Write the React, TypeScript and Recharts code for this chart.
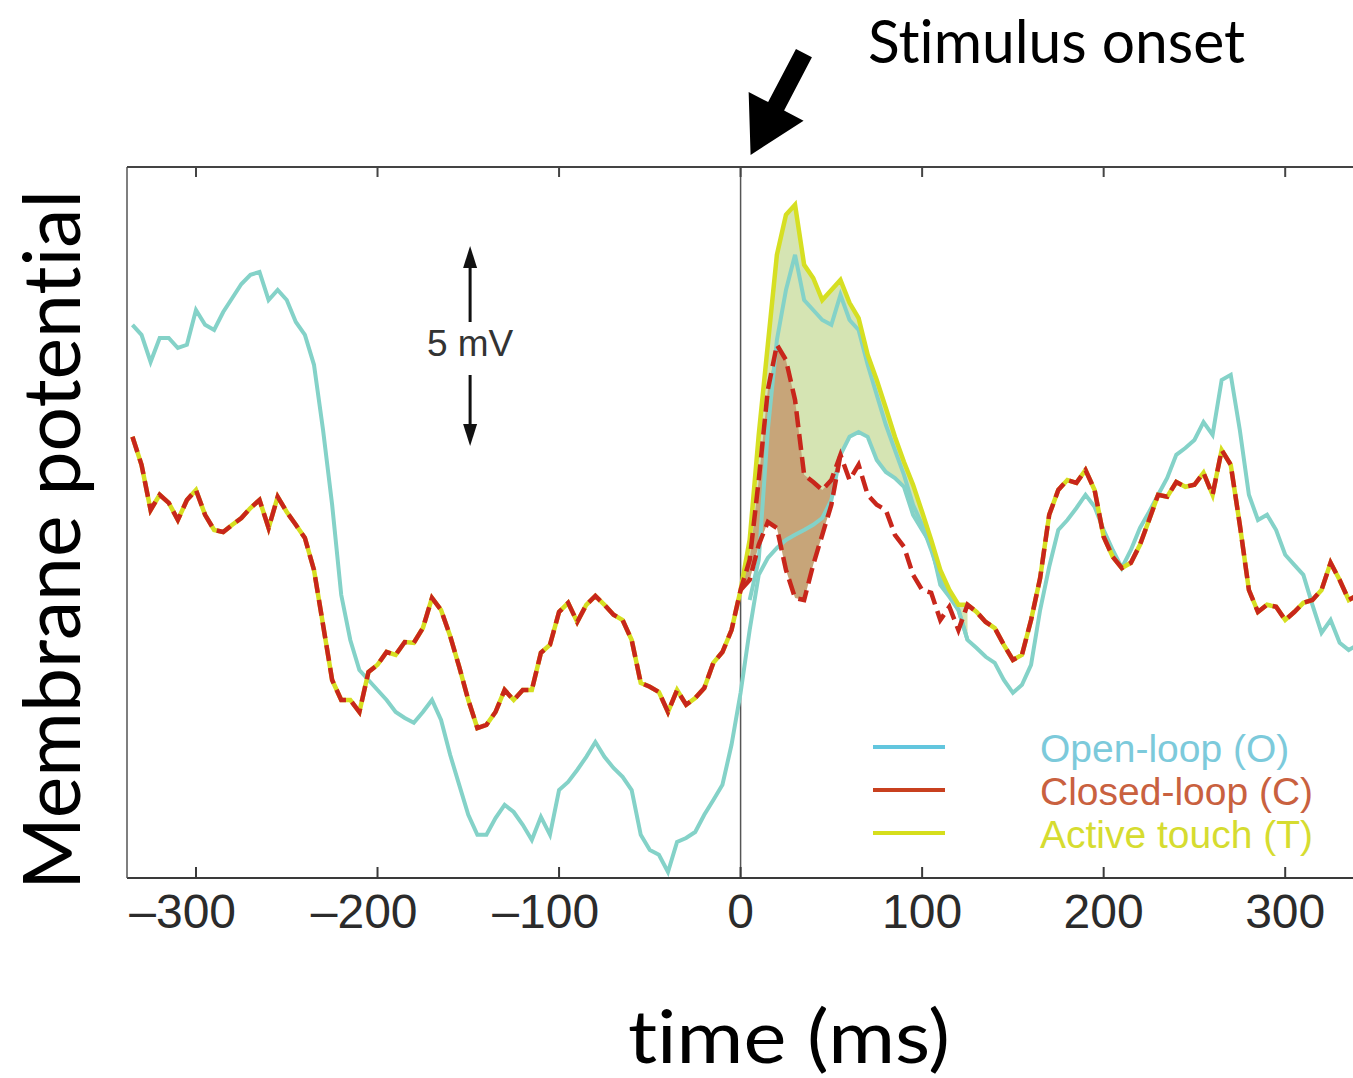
import React from "react";
import { ComposedChart, Line, Area, XAxis, YAxis, ReferenceLine } from "recharts";

// time axis of the averaged traces (ms from stimulus onset)
const TIME_MS = [
  -335, -330, -325, -320, -315, -310, -305, -300, -295, -290,
  -285, -280, -275, -270, -265, -260, -255, -250, -245, -240,
  -235, -230, -225, -220, -215, -210, -205, -200, -195, -190,
  -185, -180, -175, -170, -165, -160, -155, -150, -145, -140,
  -135, -130, -125, -120, -115, -110, -105, -100, -95, -90,
  -85, -80, -75, -70, -65, -60, -55, -50, -45, -40,
  -35, -30, -25, -20, -15, -10, -5, 0,
  5, 10, 15, 20, 25, 30, 35, 40, 45, 50,
  55, 60, 65, 70, 75, 80, 85, 90, 95, 100,
  105, 110, 115, 120, 125, 130, 135, 140, 145, 150,
  155, 160, 165, 170, 175, 180, 185, 190, 195, 200,
  205, 210, 215, 220, 225, 230, 235, 240, 245, 250,
  255, 260, 265, 270, 275, 280, 285, 290, 295, 300,
  305, 310, 315, 320, 325, 330, 335, 340,
];

// membrane potential, mV above the lowest point of the panel
const OPEN_LOOP = [
  13.83, 13.58, 12.9, 13.5, 13.5, 13.25, 13.33, 14.2, 13.83, 13.7,
  14.15, 14.5, 14.85, 15.08, 15.15, 14.45, 14.7, 14.45, 13.9, 13.58,
  12.83, 11.2, 9.33, 7.08, 5.95, 5.2, 4.95, 4.7, 4.45, 4.15,
  4.0, 3.88, 4.15, 4.45, 3.95, 3.08, 2.33, 1.58, 1.08, 1.08,
  1.5, 1.83, 1.65, 1.33, 0.95, 1.53, 1.08, 2.2, 2.4, 2.7,
  3.03, 3.4, 3.03, 2.75, 2.53, 2.2, 1.08, 0.7, 0.58, 0.15,
  0.9, 1.0, 1.15, 1.58, 1.95, 2.33, 3.33, 4.63,
  6.2, 7.58, 8.0, 8.25, 8.45, 8.58, 8.7, 8.83, 9.0, 9.45,
  10.58, 11.03, 11.15, 11.03, 10.45, 10.15, 10.0, 9.78, 9.08, 8.7,
  8.33, 7.33, 7.03, 6.7, 5.95, 5.75, 5.53, 5.38, 4.95, 4.63,
  4.83, 5.33, 6.7, 7.78, 8.7, 8.95, 9.25, 9.58, 9.28, 8.7,
  8.2, 7.75, 8.2, 8.75, 9.15, 9.58, 10.0, 10.58, 10.75, 10.95,
  11.4, 11.08, 12.45, 12.58, 11.2, 9.58, 8.95, 9.08, 8.7, 8.08,
  7.83, 7.58, 6.83, 6.13, 6.45, 5.88, 5.7, 5.83,
];

const CLOSED_LOOP = [
  11.03, 10.33, 9.2, 9.58, 9.38, 8.95, 9.45, 9.7, 9.08, 8.7,
  8.65, 8.83, 9.0, 9.25, 9.45, 8.75, 9.53, 9.15, 8.83, 8.5,
  7.7, 6.33, 4.95, 4.45, 4.45, 4.15, 5.15, 5.33, 5.65, 5.58,
  5.9, 5.88, 6.25, 7.0, 6.7, 6.05, 5.28, 4.45, 3.75, 3.83,
  4.15, 4.7, 4.45, 4.7, 4.7, 5.63, 5.83, 6.65, 6.88, 6.4,
  6.83, 7.05, 6.83, 6.58, 6.45, 5.95, 4.88, 4.78, 4.65, 4.15,
  4.7, 4.33, 4.5, 4.75, 5.38, 5.65, 6.2, 7.2,
  7.95, 9.95, 12.2, 13.33, 12.95, 11.95, 10.08, 9.9, 9.7, 9.95,
  10.58, 9.95, 10.33, 9.58, 9.33, 9.2, 8.58, 8.28, 7.58, 7.2,
  7.13, 6.45, 6.78, 6.2, 6.83, 6.65, 6.4, 6.25, 5.83, 5.45,
  5.58, 6.45, 7.5, 9.08, 9.7, 9.95, 9.88, 10.2, 9.7, 8.53,
  8.03, 7.75, 7.88, 8.33, 8.95, 9.58, 9.53, 9.9, 9.78, 9.83,
  10.13, 9.58, 10.7, 10.33, 8.83, 7.2, 6.65, 6.83, 6.78, 6.45,
  6.65, 6.88, 6.95, 7.2, 7.88, 7.45, 6.95, 7.08,
];

const ACTIVE_TOUCH = [
  11.03, 10.33, 9.2, 9.58, 9.38, 8.95, 9.45, 9.7, 9.08, 8.7,
  8.65, 8.83, 9.0, 9.25, 9.45, 8.75, 9.53, 9.15, 8.83, 8.5,
  7.7, 6.33, 4.95, 4.45, 4.45, 4.15, 5.15, 5.33, 5.65, 5.58,
  5.9, 5.88, 6.25, 7.0, 6.7, 6.05, 5.28, 4.45, 3.75, 3.83,
  4.15, 4.7, 4.45, 4.7, 4.7, 5.63, 5.83, 6.65, 6.88, 6.4,
  6.83, 7.05, 6.83, 6.58, 6.45, 5.95, 4.88, 4.78, 4.65, 4.15,
  4.7, 4.33, 4.5, 4.75, 5.38, 5.65, 6.2, 7.2,
  8.45, 11.08, 13.33, 15.58, 16.58, 16.83, 15.33, 15.0, 14.45, 14.7,
  14.95, 14.38, 14.0, 13.08, 12.45, 11.75, 11.03, 10.4, 9.83, 9.15,
  8.45, 7.7, 7.2, 6.83, 6.83, 6.65, 6.4, 6.25, 5.83, 5.45,
  5.58, 6.45, 7.5, 9.08, 9.7, 9.95, 9.88, 10.2, 9.7, 8.53,
  8.03, 7.75, 7.88, 8.33, 8.95, 9.58, 9.53, 9.9, 9.78, 9.83,
  10.13, 9.58, 10.7, 10.33, 8.83, 7.2, 6.65, 6.83, 6.78, 6.45,
  6.65, 6.88, 6.95, 7.2, 7.88, 7.45, 6.95, 7.08,
];

// early response copies drawn over the first part of the post-stimulus window
const OPEN_EARLY_TIME = [5, 10, 15, 20, 25, 30, 35, 40, 45, 50, 55, 60, 65, 70, 75, 80, 85, 90, 95, 100, 105, 110, 115, 120, 125];
const OPEN_EARLY = [
  6.95, 7.95, 11.2, 13.45, 14.7, 15.58, 14.45, 14.2, 13.95, 13.83,
  14.58, 13.95, 13.7, 12.83, 12.08, 11.33, 10.7, 10.08, 9.33, 8.83,
  8.2, 7.5, 7.08, 6.7, 5.95,
];
const CLOSED_EARLY_TIME = [0, 5, 10, 15, 20, 25, 30, 35, 40, 45, 50, 55];
const CLOSED_EARLY = [7.2, 7.45, 8.33, 8.9, 8.75, 7.7, 7.0, 6.95, 7.83, 8.58, 9.33, 10.58];

const GREEN_WINDOW = [0, 125];
const X_TICKS = [-300, -200, -100, 0, 100, 200, 300];
const SCALE_BAR_MV = 5;
const SCALE_BAR_TIME = -149;
const SCALE_BAR_BASE = 10.8;

const PAGE_W = 1353;
const PAGE_H = 1078;
const CHART_W = 1400;
const PLOT = { left: 127, top: 167, right: 1356, bottom: 878 };
const X_AXIS_H = 60;
const Y_AXIS_W = 20;
const X_DOMAIN: [number, number] = [-338, 339];
const Y_DOMAIN: [number, number] = [0, 17.775];
const TICK_FONT = 48;

const CYAN = "#84d2c8";
const RED = "#c8261b";
const YELLOW = "#d6df22";

const TITLE_FONT = "Lato, 'Open Sans', sans-serif";
const NO_LIGATURES = { fontVariantLigatures: "none" as const };

const LEGEND = [
  { label: "Open-loop (O)", line: "#62c6de", text: "#7ccadb" },
  { label: "Closed-loop (C)", line: "#c8401f", text: "#c9613f" },
  { label: "Active touch (T)", line: "#d6de1c", text: "#d6dc30" },
];

const rows = TIME_MS.map((t, i) => {
  const e = OPEN_EARLY_TIME.indexOf(t);
  const c = CLOSED_EARLY_TIME.indexOf(t);
  const inGreen = t >= GREEN_WINDOW[0] && t <= GREEN_WINDOW[1];
  const greenLow = c >= 0 ? Math.max(OPEN_LOOP[i], CLOSED_EARLY[c]) : OPEN_LOOP[i];
  return {
    t,
    open: OPEN_LOOP[i],
    closed: CLOSED_LOOP[i],
    active: ACTIVE_TOUCH[i],
    openEarly: e >= 0 ? OPEN_EARLY[e] : null,
    closedEarly: c >= 0 ? CLOSED_EARLY[c] : null,
    greenBand: inGreen ? [greenLow, ACTIVE_TOUCH[i]] : null,
    brownBand: c >= 0 ? [CLOSED_EARLY[c], CLOSED_LOOP[i]] : null,
  };
});

const xPx = (t: number) =>
  PLOT.left + ((t - X_DOMAIN[0]) / (X_DOMAIN[1] - X_DOMAIN[0])) * (PLOT.right - PLOT.left);
const yPx = (v: number) =>
  PLOT.bottom - ((v - Y_DOMAIN[0]) / (Y_DOMAIN[1] - Y_DOMAIN[0])) * (PLOT.bottom - PLOT.top);

function TimeTick(props: any) {
  const { x, payload } = props;
  const v = payload.value as number;
  const digits = String(Math.abs(v));
  const half = (digits.length * 0.556 * TICK_FONT) / 2;
  return (
    <g>
      <line x1={x} y1={PLOT.bottom} x2={x} y2={PLOT.bottom - 11} stroke="#3a3a3a" strokeWidth={2} />
      <text
        x={x + half}
        y={PLOT.bottom + 50}
        textAnchor="end"
        fontFamily="'Liberation Sans', Arial, sans-serif"
        fontSize={TICK_FONT}
        fill="#2b2b2b"
      >
        {v < 0 ? "\u2013" + digits : digits}
      </text>
    </g>
  );
}

function Overlay() {
  const bx = xPx(SCALE_BAR_TIME);
  const top = yPx(SCALE_BAR_BASE + SCALE_BAR_MV);
  const bottom = yPx(SCALE_BAR_BASE);
  const mid = (top + bottom) / 2;

  // stimulus arrow, pointing at the onset line
  const tip = { x: xPx(0) + 10, y: 155 };
  const d = { x: -0.464, y: 0.886 };
  const n = { x: 0.886, y: 0.464 };
  const base = { x: tip.x - 55 * d.x, y: tip.y - 55 * d.y };
  const tail = { x: tip.x - 115 * d.x, y: tip.y - 115 * d.y };
  const p = (c: { x: number; y: number }, k: number) => `${c.x + k * n.x},${c.y + k * n.y}`;
  const arrow = [
    `${tip.x},${tip.y}`,
    p(base, 31),
    p(base, 9),
    p(tail, 9),
    p(tail, -9),
    p(base, -9),
    p(base, -31),
  ].join(" ");

  return (
    <svg
      width={PAGE_W}
      height={PAGE_H}
      style={{ position: "absolute", left: 0, top: 0, pointerEvents: "none" }}
    >
      <line x1={PLOT.left} y1={PLOT.top} x2={PAGE_W} y2={PLOT.top} stroke="#444" strokeWidth={2} />
      {X_TICKS.map((t) => (
        <line key={t} x1={xPx(t)} y1={PLOT.top} x2={xPx(t)} y2={PLOT.top + 10} stroke="#444" strokeWidth={2} />
      ))}

      <polygon points={arrow} fill="#000" />
      <text
        x={868}
        y={63}
        fontFamily={TITLE_FONT}
        fontSize={60}
        textLength={377}
        lengthAdjust="spacingAndGlyphs"
        style={NO_LIGATURES}
        fill="#000"
      >
        Stimulus onset
      </text>

      <text
        x={628}
        y={1063}
        fontFamily={TITLE_FONT}
        fontSize={74}
        textLength={322}
        lengthAdjust="spacingAndGlyphs"
        style={NO_LIGATURES}
        fill="#000"
      >
        time (ms)
      </text>
      <text
        transform="translate(80, 540) rotate(-90)"
        textAnchor="middle"
        fontFamily={TITLE_FONT}
        fontSize={80}
        textLength={700}
        lengthAdjust="spacingAndGlyphs"
        style={NO_LIGATURES}
        fill="#000"
      >
        Membrane potential
      </text>

      {/* 5 mV scale bar */}
      <line x1={bx} y1={top + 16} x2={bx} y2={mid - 24} stroke="#111" strokeWidth={3} />
      <polygon points={`${bx},${top} ${bx - 7},${top + 22} ${bx + 7},${top + 22}`} fill="#111" />
      <line x1={bx} y1={mid + 29} x2={bx} y2={bottom - 16} stroke="#111" strokeWidth={3} />
      <polygon points={`${bx},${bottom} ${bx - 7},${bottom - 22} ${bx + 7},${bottom - 22}`} fill="#111" />
      <text
        x={bx}
        y={mid + 10}
        textAnchor="middle"
        fontFamily="'Liberation Sans', Arial, sans-serif"
        fontSize={37}
        fill="#333"
      >
        {SCALE_BAR_MV} mV
      </text>

      {LEGEND.map((item, i) => (
        <g key={item.label}>
          <line x1={873} y1={747 + i * 43} x2={945} y2={747 + i * 43} stroke={item.line} strokeWidth={4} />
          <text
            x={1040}
            y={762 + i * 43}
            fontFamily="'Liberation Sans', Arial, sans-serif"
            fontSize={39}
            fill={item.text}
          >
            {item.label}
          </text>
        </g>
      ))}
    </svg>
  );
}

export default function App() {
  return (
    <div
      style={{
        position: "absolute",
        left: 0,
        top: 0,
        width: PAGE_W,
        height: PAGE_H,
        overflow: "hidden",
        background: "#fff",
      }}
    >
      <ComposedChart
        width={CHART_W}
        height={PAGE_H}
        data={rows}
        margin={{
          top: PLOT.top,
          left: PLOT.left - Y_AXIS_W,
          right: CHART_W - PLOT.right,
          bottom: PAGE_H - PLOT.bottom - X_AXIS_H,
        }}
      >
        <XAxis
          dataKey="t"
          type="number"
          domain={X_DOMAIN}
          ticks={X_TICKS}
          interval={0}
          allowDataOverflow
          height={X_AXIS_H}
          tickLine={false}
          tickSize={0}
          tickMargin={0}
          tick={<TimeTick />}
          axisLine={{ stroke: "#3a3a3a", strokeWidth: 2 }}
        />
        <YAxis
          type="number"
          domain={Y_DOMAIN}
          allowDataOverflow
          width={Y_AXIS_W}
          tick={false}
          tickLine={false}
          axisLine={{ stroke: "#555", strokeWidth: 1.5 }}
        />
        <ReferenceLine x={0} stroke="#555" strokeWidth={1.5} />

        <Area dataKey="greenBand" stroke="none" fill="#d5e4b3" fillOpacity={1} isAnimationActive={false} />
        <Area dataKey="brownBand" stroke="none" fill="#c7a579" fillOpacity={1} isAnimationActive={false} />

        <Line dataKey="open" stroke={CYAN} strokeWidth={4} dot={false} isAnimationActive={false} />
        <Line dataKey="openEarly" stroke={CYAN} strokeWidth={4} dot={false} isAnimationActive={false} />
        <Line dataKey="active" stroke={YELLOW} strokeWidth={4.5} dot={false} isAnimationActive={false} />
        <Line
          dataKey="closed"
          stroke={RED}
          strokeWidth={4.5}
          strokeDasharray="16 7"
          dot={false}
          isAnimationActive={false}
        />
        <Line
          dataKey="closedEarly"
          stroke={RED}
          strokeWidth={4.5}
          strokeDasharray="16 7"
          dot={false}
          isAnimationActive={false}
        />
      </ComposedChart>
      <Overlay />
    </div>
  );
}
